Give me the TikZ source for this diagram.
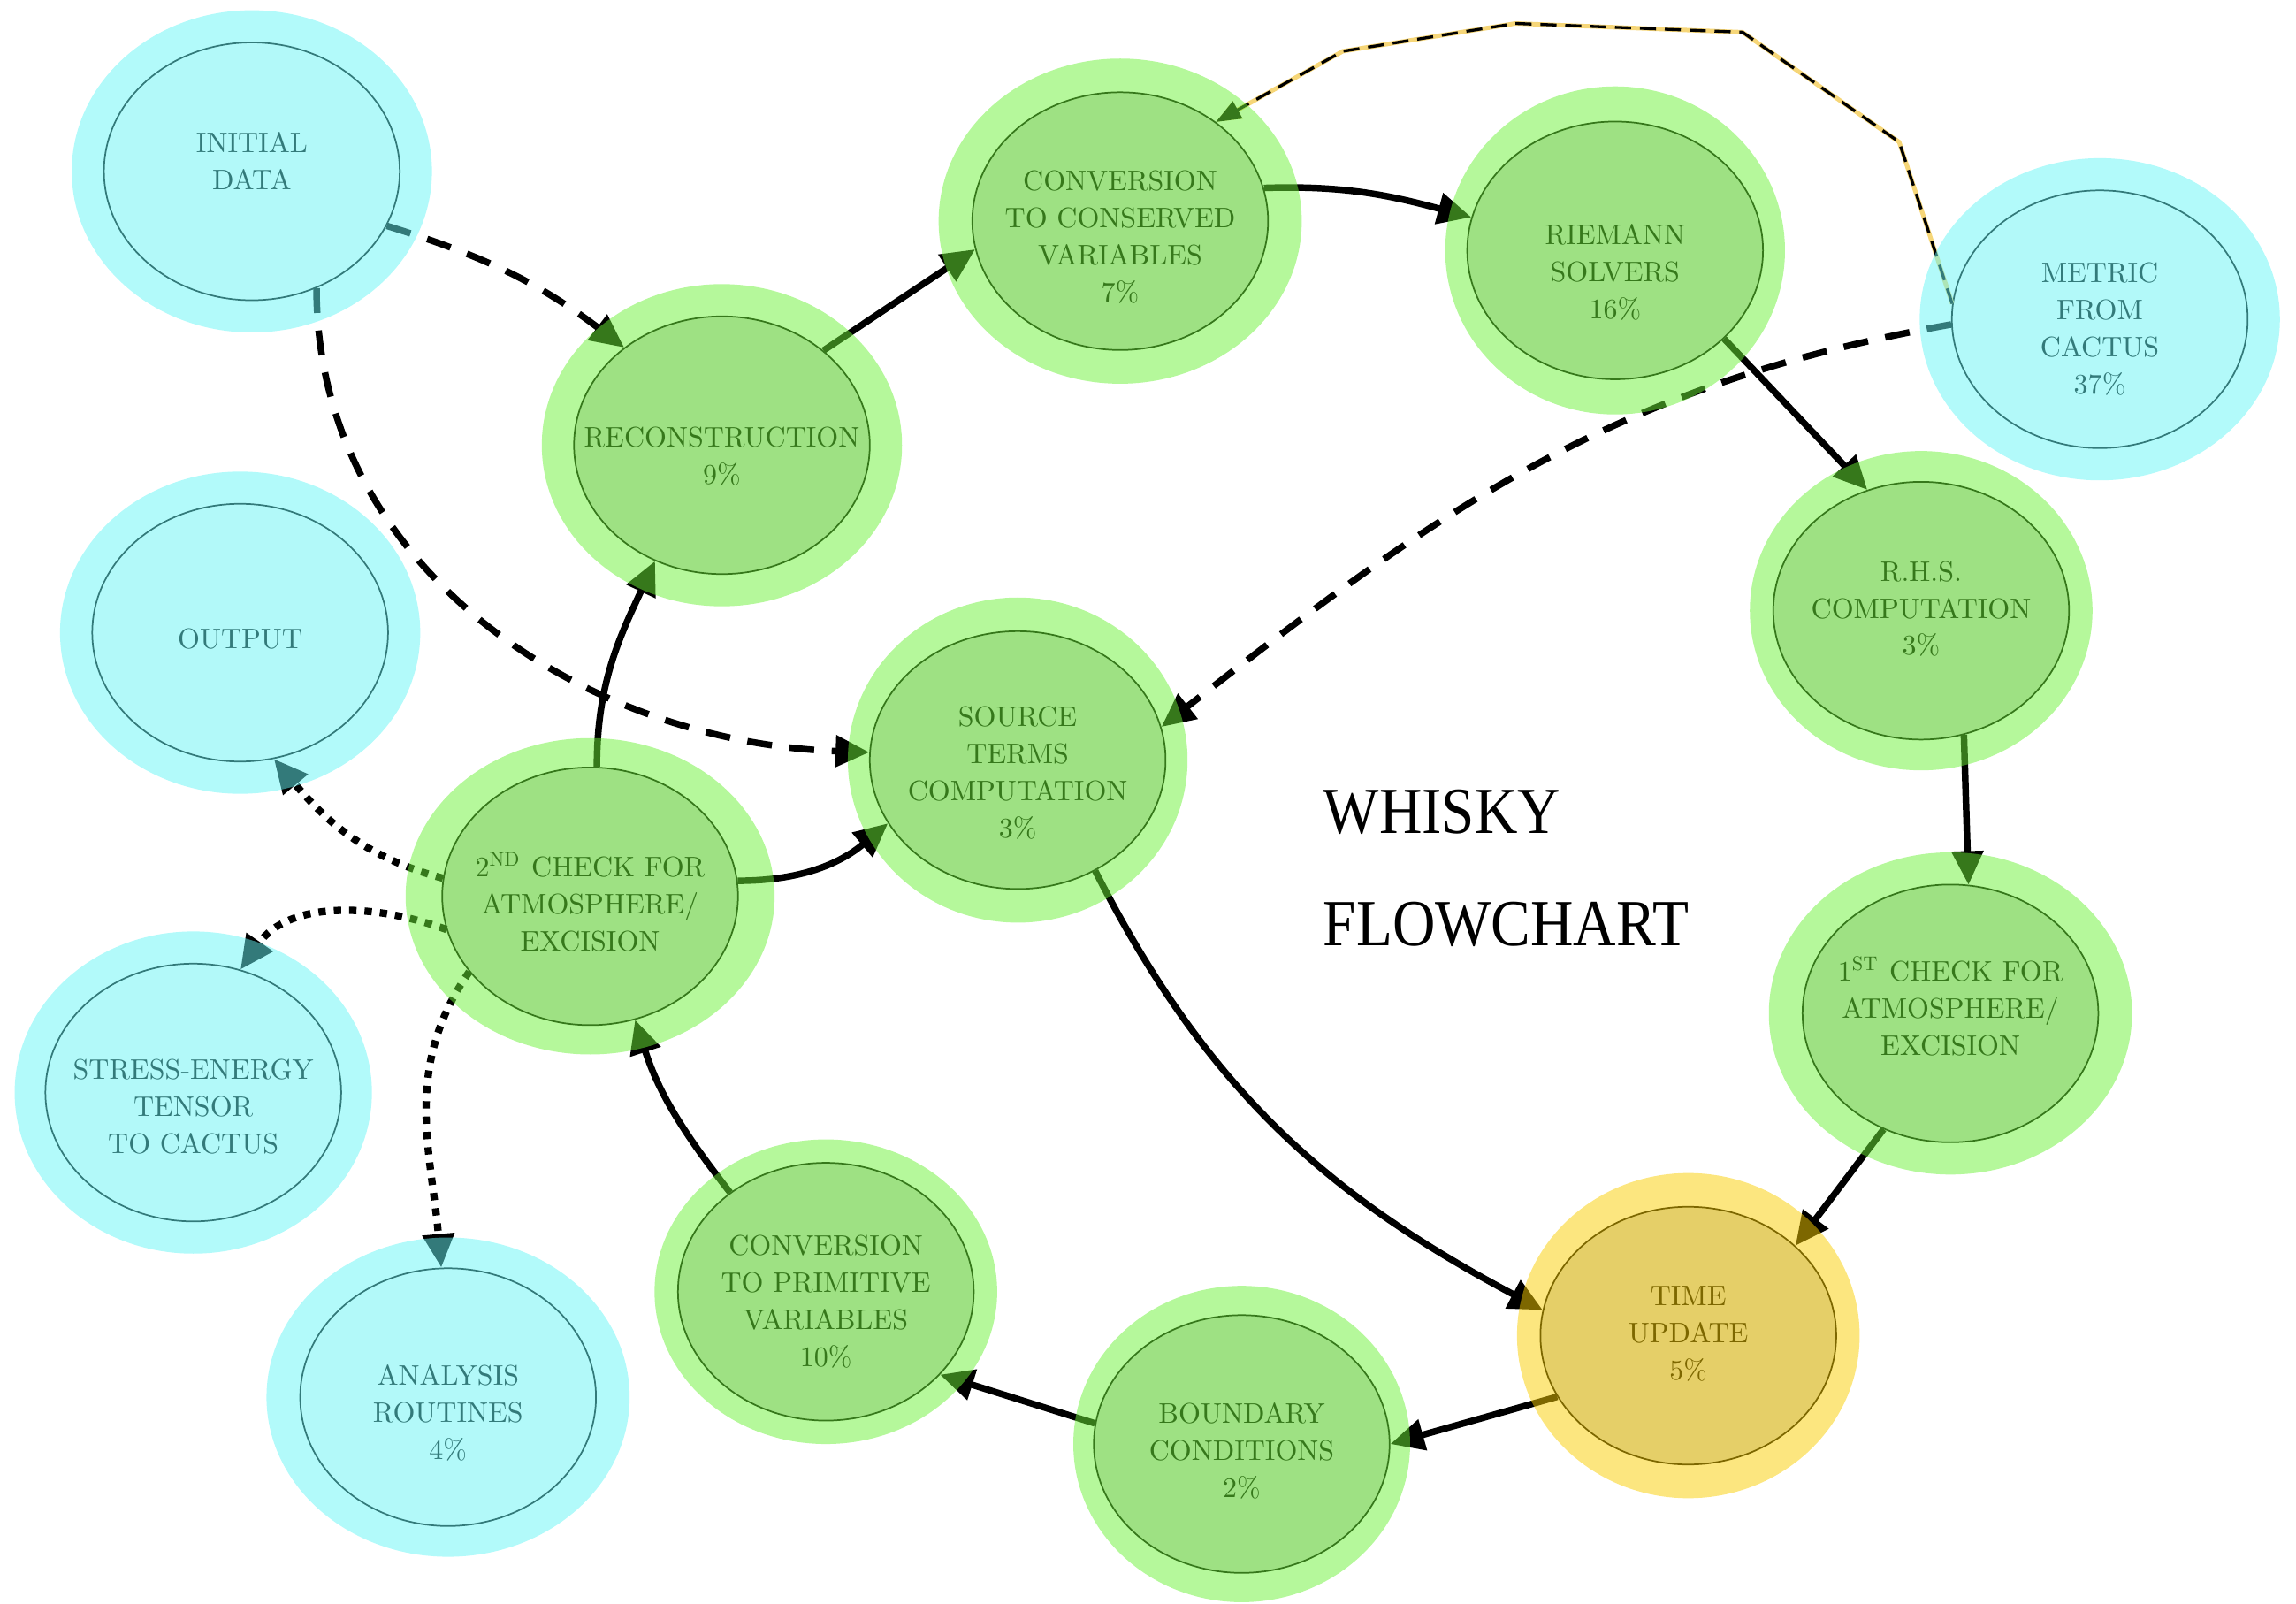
\documentclass[tikz,border=0pt]{standalone}
\usepackage{fontspec}
\usepackage{tikz}
\usetikzlibrary{arrows.meta,positioning,shapes.geometric}

\newfontfamily\stepfont{lmroman10-regular}[Extension=.otf]
\newfontfamily\titlefont{Liberation Serif}

\definecolor{cyanhalo}{RGB}{102,245,245}
\definecolor{greenhalo}{RGB}{108,241,55}
\definecolor{yellowhalo}{RGB}{250,206,0}
\definecolor{stepgray}{gray}{0.82}
\definecolor{metricglow}{RGB}{246,214,120}

% text of a step, lowered a little inside its ellipse
\newcommand{\inside}[2][-.9mm]{\raisebox{#1}[\height][\depth]{\begin{tabular}{@{}c@{}}#2\end{tabular}}}

\tikzset{
  task/.style={ellipse, draw=black, line width=.3pt, minimum width=20.2mm, minimum height=17.6mm,
    inner xsep=-3mm, inner ysep=0pt, font=\stepfont\fontsize{5.5}{7.2}\selectfont},
  cactus/.style={task, fill=white},
  whisky/.style={task, fill=stepgray},
  mainflow/.style={line width=.45mm, -{Triangle[length=2.3mm,width=2.1mm]}},
  dataflow/.style={mainflow, dash pattern=on 1.7mm off 1.2mm},
  ioflow/.style={mainflow, line width=.5mm, dash pattern=on .5mm off .55mm},
  metricflow/.style={line width=.2mm, dash pattern=on 1.1mm off .6mm, -{Triangle[length=1.7mm,width=1.3mm]},
    preaction={draw=metricglow, solid, line width=.3mm}},
}

\begin{document}
\begin{tikzpicture}[x=0.1mm, y=0.1mm]
  \useasboundingbox (0,0) rectangle (1568,1095);

  % cactus side
  \node (init) [cactus] at (172,978) {\inside[.5mm]{INITIAL\\DATA}};
  \node (output) [cactus] at (164,663) {\inside[-.6mm]{OUTPUT}};
  \node (stress) [cactus] at (132,349) {\inside[-1.1mm]{STRESS-ENERGY\\TENSOR\\TO CACTUS}};
  \node (analysis) [cactus] at (306,141) {\inside[-1.2mm]{ANALYSIS\\ROUTINES\\4\%}};
  \node (metric) [cactus] at (1434,877) {\inside[-.8mm]{METRIC\\FROM\\CACTUS\\37\%}};

  % whisky steps
  \node (recon) [whisky] at (493,791) {\inside{RECONSTRUCTION\\9\%}};
  \node (conserved) [whisky] at (765,944) {\inside[-1.2mm]{CONVERSION\\TO CONSERVED\\VARIABLES\\7\%}};
  \node (riemann) [whisky] at (1103,924) {\inside[-1.6mm]{RIEMANN\\SOLVERS\\16\%}};
  \node (rhs) [whisky] at (1312,678) {\inside[0mm]{R.H.S.\\COMPUTATION\\3\%}};
  \node (source) [whisky] at (695,576) {\inside[-1mm]{SOURCE\\TERMS\\COMPUTATION\\3\%}};
  \node (check2) [whisky] at (403,483) {\inside[-.7mm]{2\textsuperscript{ND} CHECK FOR\\ATMOSPHERE/\\EXCISION}};
  \node (check1) [whisky] at (1332,403) {\inside[.2mm]{1\textsuperscript{ST} CHECK FOR\\ATMOSPHERE/\\EXCISION}};
  \node (time) [whisky] at (1153,183) {\inside[0mm]{TIME\\UPDATE\\5\%}};
  \node (boundary) [whisky] at (848,109) {\inside[-.6mm]{BOUNDARY\\CONDITIONS\\2\%}};
  \node (primitive) [whisky] at (564,213) {\inside[-.8mm]{CONVERSION\\TO PRIMITIVE\\VARIABLES\\10\%}};

  \node (title) [anchor=west, align=left, inner sep=0pt, font=\titlefont\fontsize{12.8}{21.8}\selectfont]
    at (903,502) {\scalebox{.9}[1]{WHISKY}\\\scalebox{.9}[1]{FLOWCHART}};

  % evolution loop
  \draw[mainflow] (check2.87) to[out=90, in=-115] (recon.-120);
  \draw[mainflow] (recon.43) -- (conserved.191);
  \draw[mainflow] (conserved.13) to[out=2, in=165] (riemann.167);
  \draw[mainflow] (riemann.-39) -- (rhs.114);
  \draw[mainflow] (rhs.-71) -- (check1.82);
  \draw[mainflow] (check1.-120) -- (time.40);
  \draw[mainflow] (source.-55) to[out=-63, in=152] (time.170);
  \draw[mainflow] (time.205) -- (boundary.0);
  \draw[mainflow] (boundary.172) -- (primitive.-36);
  \draw[mainflow] (primitive.134) to[out=128, in=-72] (check2.-70);
  \draw[mainflow] (check2.6) to[out=0, in=220] (source.206);

  % data coming in
  \draw[dataflow] (init.-22) to[bend left=10] (recon.135);
  \draw[dataflow] (init.-61) to[out=-90, in=178] (source.177);
  \draw[dataflow] (metric.182) to[out=190, in=38] (source.13);
  \draw[metricflow] (metric.174) -- (1297,998) -- (1190,1073) -- (1035,1079) -- (917,1060) -- (conserved.46);

  % data going out
  \draw[ioflow] (check2.173) to[out=165, in=-50] (output.-75);
  \draw[ioflow] (check2.193) to[out=160, in=55] (stress.69);
  \draw[ioflow] (check2.212) to[out=235, in=95] (analysis.93);

  % halos
  \foreach \n/\rx/\ry/\c in {init/123/110/cyanhalo, output/123/110/cyanhalo, stress/122/110/cyanhalo,
      analysis/124/109/cyanhalo, metric/123/110/cyanhalo, recon/123/110/greenhalo,
      conserved/124/111/greenhalo, riemann/116/112/greenhalo, rhs/117/109/greenhalo,
      source/116/111/greenhalo, check2/126/108/greenhalo, check1/124/110/greenhalo,
      time/117/111/yellowhalo, boundary/115/108/greenhalo, primitive/117/104/greenhalo}
    \fill[\c, fill opacity=.5] (\n.center) ellipse [x radius=\rx, y radius=\ry];
\end{tikzpicture}
\end{document}
